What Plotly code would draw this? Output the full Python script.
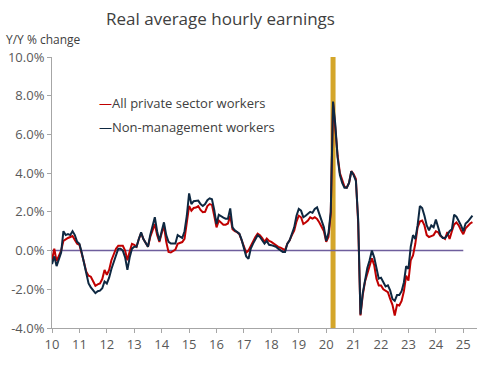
import plotly.graph_objects as go

# Monthly data, Jan 2010 .. May 2025 (Y/Y % change)
all_private = [
    # 2010
    -0.5, 0.1, -0.55, -0.3, 0.0, 0.5, 0.6, 0.65, 0.7, 0.75, 0.55, 0.35,
    # 2011
    0.3, -0.1, -0.6, -1.1, -1.3, -1.35, -1.55, -1.82, -1.75, -1.7, -1.47, -1.0,
    # 2012
    -1.25, -1.0, -0.5, -0.2, 0.1, 0.25, 0.27, 0.25, 0.0, -0.5, -0.05, 0.35,
    # 2013
    0.3, 0.2, 0.6, 0.9, 0.6, 0.4, 0.2, 0.7, 1.0, 1.37, 0.8, 0.44,
    # 2014
    0.9, 1.29, 0.45, -0.07, -0.1, 0.0, 0.05, 0.35, 0.4, 0.44, 0.6, 1.4,
    # 2015
    2.3, 2.06, 2.2, 2.22, 2.3, 2.1, 1.98, 2.0, 2.3, 2.4, 2.36, 1.8,
    # 2016
    1.2, 1.55, 1.45, 1.34, 1.34, 1.4, 1.8, 1.1, 1.0, 0.95, 0.85, 0.55,
    # 2017
    0.15, -0.1, 0.0, 0.25, 0.45, 0.7, 0.87, 0.79, 0.65, 0.45, 0.62, 0.5,
    # 2018
    0.45, 0.36, 0.3, 0.19, 0.15, 0.1, 0.02, 0.36, 0.53, 0.8, 1.03, 1.5,
    # 2019
    1.8, 1.72, 1.37, 1.45, 1.55, 1.72, 1.65, 1.72, 1.63, 1.45, 1.2, 1.0,
    # 2020
    0.45, 0.7, 1.9, 7.6, 6.3, 4.9, 4.0, 3.6, 3.3, 3.25, 3.5, 4.1,
    # 2021
    3.95, 3.7, 1.4, -3.35, -2.3, -1.6, -1.2, -0.9, -0.4, -0.75, -1.45, -1.8,
    # 2022
    -1.8, -2.0, -2.06, -2.15, -2.5, -2.8, -3.35, -2.8, -2.84, -2.6, -2.1, -1.3,
    # 2023
    -1.55, -0.5, -0.25, 0.35, 1.2, 1.5, 1.55, 1.3, 0.8, 0.7, 0.75, 0.8,
    # 2024
    1.0, 0.95, 0.75, 0.65, 0.6, 0.95, 0.6, 1.0, 1.35, 1.45, 1.3, 1.05,
    # 2025
    0.85, 1.15, 1.3, 1.4, 1.47,
]

non_management = [
    # 2010
    -0.7, -0.3, -0.8, -0.5, -0.1, 1.0, 0.8, 0.85, 0.8, 1.0, 0.8, 0.45,
    # 2011
    0.35, -0.1, -0.7, -1.3, -1.7, -1.9, -2.06, -2.2, -2.1, -2.07, -1.95, -1.6,
    # 2012
    -1.7, -1.4, -0.95, -0.6, -0.3, 0.1, 0.1, 0.0, -0.35, -1.0, -0.35, 0.1,
    # 2013
    0.2, 0.2, 0.6, 0.94, 0.6, 0.4, 0.2, 0.8, 1.3, 1.72, 1.0, 0.5,
    # 2014
    1.0, 1.46, 0.8, 0.45, 0.36, 0.36, 0.36, 0.8, 0.7, 0.65, 1.0, 1.8,
    # 2015
    2.95, 2.4, 2.55, 2.58, 2.58, 2.4, 2.3, 2.4, 2.6, 2.7, 2.65, 2.1,
    # 2016
    1.37, 1.85, 1.75, 1.7, 1.65, 1.65, 2.18, 1.2, 1.05, 0.95, 0.87, 0.55,
    # 2017
    0.1, -0.3, -0.43, 0.1, 0.36, 0.6, 0.79, 0.7, 0.55, 0.36, 0.5, 0.3,
    # 2018
    0.28, 0.24, 0.2, 0.1, 0.0, -0.07, -0.07, 0.36, 0.53, 0.9, 1.2, 1.8,
    # 2019
    2.15, 2.06, 1.72, 1.8, 1.89, 2.0, 1.95, 2.15, 2.23, 1.9, 1.55, 1.2,
    # 2020
    0.5, 0.9, 2.0, 7.7, 6.5, 4.8, 3.9, 3.5, 3.25, 3.25, 3.5, 4.1,
    # 2021
    3.9, 3.6, 1.6, -3.3, -2.2, -1.5, -0.9, -0.5, 0.0, -0.35, -1.0, -1.45,
    # 2022
    -1.4, -1.65, -1.85, -1.8, -2.06, -2.5, -2.6, -2.3, -2.3, -2.1, -1.65, -0.8,
    # 2023
    -0.95, 0.2, 0.8, 0.6, 1.3, 2.3, 2.2, 1.8, 1.3, 1.05, 1.3, 1.2,
    # 2024
    1.6, 1.2, 0.8, 0.65, 0.65, 0.8, 1.0, 1.1, 1.85, 1.75, 1.55, 1.3,
    # 2025
    1.0, 1.4, 1.5, 1.65, 1.8,
]

start_year = 2010
x_dates = [start_year + i / 12 for i in range(len(all_private))]

tick_years = list(range(2010, 2026))
tick_labels = [f"{y % 100:02d}" for y in tick_years]
y_ticks = [-4, -2, 0, 2, 4, 6, 8, 10]
y_tick_labels = [f"{v:.1f}%" for v in y_ticks]

series_names = ["All private sector workers", "Non-management workers"]
series_colors = ["#C00000", "#0E2841"]

covid_marker = 2020 + 3 / 12  # April 2020
zero_line_end = 2025.0

fig = go.Figure()
for name, vals, col in zip(series_names, [all_private, non_management], series_colors):
    fig.add_trace(go.Scatter(
        x=x_dates, y=vals, mode="lines", name=name,
        line=dict(color=col, width=2), showlegend=False,
    ))

# gold vertical marker
fig.add_shape(type="line", xref="x", yref="y", x0=covid_marker, x1=covid_marker,
              y0=-4, y1=10, line=dict(color="#D4A62A", width=5), layer="below")
# zero line
fig.add_shape(type="line", xref="x", yref="y", x0=start_year, x1=zero_line_end,
              y0=0, y1=0, line=dict(color="#6E5E9C", width=1.5), layer="below")

font_family = "Open Sans, Noto Sans, sans-serif"
text_col = "#595959"

PLOT_L, PLOT_T, PLOT_W = 52, 57, 425

fig.update_layout(
    width=477, height=381,
    margin=dict(l=PLOT_L, r=0, t=PLOT_T, b=53, autoexpand=False),
    paper_bgcolor="white", plot_bgcolor="white",
    font=dict(family=font_family, color=text_col, size=12),
    xaxis=dict(
        range=[2010, 2025.5], tickmode="array", tickvals=tick_years, ticktext=tick_labels,
        showgrid=False, zeroline=False, showline=True, linecolor="#A6A6A6", linewidth=1,
        ticks="outside", ticklen=4, tickcolor="#A6A6A6", automargin=False,
        tickfont=dict(size=13, color=text_col, family=font_family),
    ),
    yaxis=dict(
        range=[-4, 10], tickmode="array", tickvals=y_ticks, ticktext=y_tick_labels,
        showgrid=False, zeroline=False, showline=True, linecolor="#A6A6A6", linewidth=1,
        ticks="outside", ticklen=4, tickcolor="#A6A6A6", automargin=False,
        tickfont=dict(size=13, color=text_col, family=font_family),
    ),
    annotations=[
        dict(text="Real average hourly earnings", xref="paper", yref="paper",
             x=(220 - PLOT_L) / PLOT_W, y=1, xanchor="center", yanchor="middle",
             yshift=PLOT_T - 18, showarrow=False,
             font=dict(size=17, color="#404040", family=font_family)),
        dict(text="Y/Y % change", xref="paper", yref="paper", x=(4 - PLOT_L) / PLOT_W,
             y=1, xanchor="left", yanchor="middle", yshift=PLOT_T - 39, showarrow=False,
             font=dict(size=12, color="#404040", family=font_family)),
        dict(text=f'<span style="color:{series_colors[0]}">—</span>{series_names[0]}',
             xref="paper", yref="paper", x=(97 - PLOT_L) / PLOT_W, y=1, yshift=PLOT_T - 103,
             xanchor="left", yanchor="middle", showarrow=False,
             font=dict(size=13, color="#404040", family=font_family)),
        dict(text=f'<span style="color:{series_colors[1]}">—</span>{series_names[1]}',
             xref="paper", yref="paper", x=(97 - PLOT_L) / PLOT_W, y=1, yshift=PLOT_T - 127,
             xanchor="left", yanchor="middle", showarrow=False,
             font=dict(size=13, color="#404040", family=font_family)),
    ],
)

fig.write_html(
    "out.html",
    config={"displayModeBar": False},
    post_script="document.body.style.margin='0';document.body.style.padding='0';",
)
